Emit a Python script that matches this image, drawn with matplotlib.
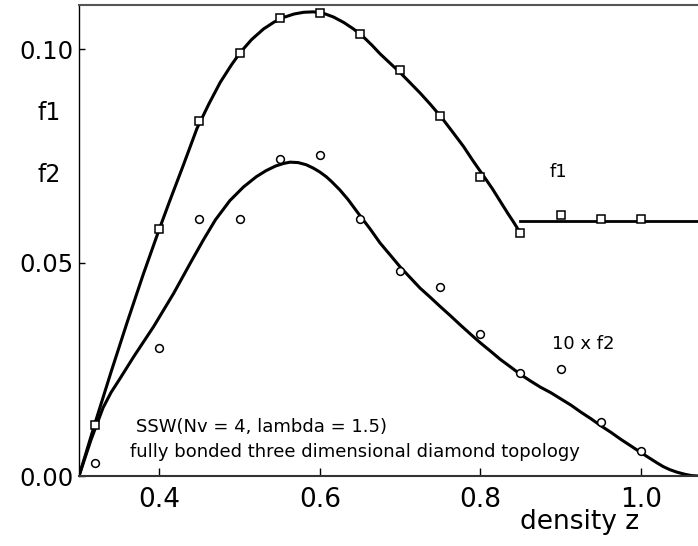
import matplotlib
matplotlib.use("Agg")
import matplotlib.pyplot as plt
import matplotlib.transforms as mtransforms

# simulation points, f1 (squares) and 10 x f2 (circles)
z_pts = [0.32, 0.40, 0.45, 0.50, 0.55, 0.60, 0.65, 0.70, 0.75, 0.80, 0.85, 0.90, 0.95, 1.00]
f1_pts = [0.0120, 0.0578, 0.0832, 0.0990, 0.1072, 0.1084, 0.1034, 0.0952, 0.0843, 0.0700, 0.0568,
          0.0611, 0.0602, 0.0603]
f2_pts = [0.0031, 0.0300, 0.0602, 0.0602, 0.0742, 0.0752, 0.0601, 0.0481, 0.0442, 0.0333, 0.0241,
          0.0251, 0.0127, 0.0059]

# theory curves
z_f1 = [0.300, 0.320, 0.340, 0.360, 0.380, 0.400, 0.413, 0.430, 0.447, 0.462, 0.476, 0.490,
        0.501, 0.515, 0.530, 0.543, 0.555, 0.568, 0.580, 0.592, 0.604, 0.617, 0.630, 0.642,
        0.654, 0.665, 0.675, 0.688, 0.700, 0.712, 0.725, 0.738, 0.752, 0.765, 0.779, 0.791,
        0.804, 0.815, 0.825, 0.834, 0.841, 0.849]
f1_line = [0.000, 0.0124, 0.0244, 0.0360, 0.0472, 0.0578, 0.0644, 0.0728, 0.0814, 0.0872,
           0.0922, 0.0963, 0.0992, 0.1022, 0.1047, 0.1063, 0.1074, 0.1082, 0.1086, 0.1087,
           0.1084, 0.1075, 0.1062, 0.1047, 0.1029, 0.1009, 0.0989, 0.0966, 0.0945, 0.0922,
           0.0897, 0.0870, 0.0839, 0.0807, 0.0772, 0.0738, 0.0703, 0.0673, 0.0643, 0.0616,
           0.0596, 0.0572]
z_flat = [0.849, 1.072]
f1_flat = [0.0597, 0.0597]

z_f2 = [0.300, 0.315, 0.330, 0.340, 0.350, 0.368, 0.393, 0.418, 0.440, 0.455, 0.470, 0.488,
        0.505, 0.521, 0.533, 0.545, 0.555, 0.563, 0.573, 0.583, 0.592, 0.600, 0.608, 0.615,
        0.625, 0.635, 0.650, 0.663, 0.675, 0.688, 0.700, 0.713, 0.725, 0.738, 0.750, 0.763,
        0.775, 0.788, 0.800, 0.813, 0.825, 0.838, 0.850, 0.863, 0.875, 0.888, 0.900, 0.913,
        0.925, 0.938, 0.950, 0.963, 0.975, 0.988, 1.000, 1.010, 1.020, 1.028, 1.036, 1.045,
        1.055, 1.063, 1.072]
f2_line = [0.000, 0.0085, 0.0160, 0.0196, 0.0225, 0.0279, 0.0350, 0.0428, 0.0503, 0.0553,
           0.0600, 0.0645, 0.0677, 0.0701, 0.0715, 0.0726, 0.0732, 0.0735, 0.0734, 0.0729,
           0.0721, 0.0712, 0.0701, 0.0689, 0.0670, 0.0648, 0.0610, 0.0578, 0.0546, 0.0517,
           0.0490, 0.0464, 0.0440, 0.0418, 0.0397, 0.0375, 0.0354, 0.0332, 0.0312, 0.0292,
           0.0273, 0.0255, 0.0238, 0.0222, 0.0208, 0.0195, 0.0181, 0.0166, 0.0150, 0.0134,
           0.0118, 0.0102, 0.0086, 0.0070, 0.0055, 0.0043, 0.0031, 0.0022, 0.0015, 0.0009,
           0.0004, 0.0001, 0.000]

yticks = [0.00, 0.05, 0.10]
yticklabels = ["0.00", "0.05", "0.10"]
xticks = [0.4, 0.6, 0.8, 1.0]
xticklabels = ["0.4", "0.6", "0.8", "1.0"]

fig = plt.figure(figsize=(6.98, 5.46), dpi=100)
ax = fig.add_axes([0.1132, 0.1282, 0.8868, 0.8626])

ax.plot(z_f1, f1_line, color="black", lw=2.2, solid_joinstyle="round")
ax.plot(z_flat, f1_flat, color="black", lw=2.0)
ax.plot(z_f2, f2_line, color="black", lw=2.2, solid_joinstyle="round")
ax.plot(z_pts, f1_pts, ls="none", marker="s", ms=6.2, mfc="white", mec="black", mew=1.1)
ax.plot(z_pts, f2_pts, ls="none", marker="o", ms=5.6, mfc="white", mec="black", mew=1.1)

ax.set_xlim(0.3, 1.0713)
ax.set_ylim(0.0, 0.1103)

ax.set_xticks(xticks)
ax.set_xticklabels(xticklabels, fontsize=19)
ax.set_yticks(yticks)
ax.set_yticklabels(yticklabels, fontsize=17.5)
ax.tick_params(axis="x", direction="in", length=6, width=1, pad=8)
ax.tick_params(axis="y", direction="in", length=4, width=1, pad=4)

ax.spines["right"].set_visible(False)
ax.spines["top"].set_color("#555555")
ax.spines["top"].set_linewidth(1.5)
ax.spines["left"].set_linewidth(1.0)
ax.spines["bottom"].set_linewidth(1.5)
ax.spines["bottom"].set_color("#333333")

# f1 / f2 labels on the y axis
trans = mtransforms.blended_transform_factory(fig.transFigure, ax.transData)
ax.text(0.070, 0.0850, "f1", transform=trans, fontsize=17, ha="center", va="center")
ax.text(0.070, 0.0705, "f2", transform=trans, fontsize=17, ha="center", va="center")

ax.text(0.897, 0.0712, "f1", fontsize=13, ha="center", va="center")
ax.text(0.928, 0.0310, "10 x f2", fontsize=13, ha="center", va="center")
ax.text(0.371, 0.0115, "SSW(Nv = 4, lambda = 1.5)", fontsize=13, ha="left", va="center")
ax.text(0.3636, 0.0056, "fully bonded three dimensional diamond topology", fontsize=13,
        ha="left", va="center")

fig.text(0.831, 0.044, "density z", fontsize=19, ha="center", va="center")

plt.savefig("out.png", dpi=100)
